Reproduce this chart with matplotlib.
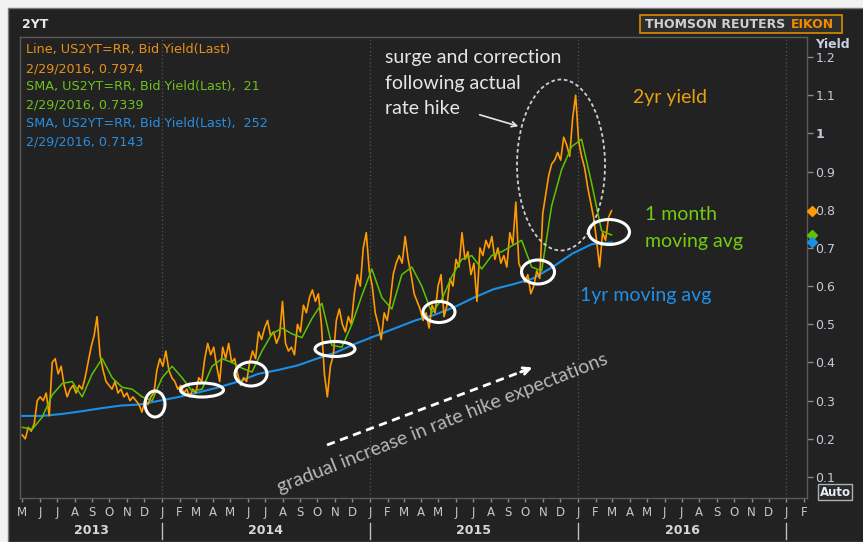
import matplotlib
matplotlib.use('Agg')
import matplotlib.pyplot as plt
import matplotlib.transforms as mtransforms
import matplotlib.dates as mdates
from matplotlib.patches import Ellipse, Rectangle, FancyArrowPatch
from matplotlib.lines import Line2D
import pandas as pd

# ---------------- data ----------------
start_date = '2013-05-01'
end_date = '2016-02-29'

yield_2y = [
    0.21, 0.20, 0.23, 0.22, 0.24, 0.30, 0.31, 0.30, 0.32, 0.26,
    0.40, 0.41, 0.37, 0.39, 0.34, 0.31, 0.33, 0.34, 0.32, 0.34,
    0.33, 0.36, 0.40, 0.44, 0.47, 0.52, 0.42, 0.38, 0.35, 0.34,
    0.33, 0.35, 0.32, 0.33, 0.31, 0.32, 0.30, 0.31, 0.30, 0.29,
    0.27, 0.30, 0.29, 0.31, 0.32, 0.38, 0.41, 0.39, 0.43, 0.38,
    0.36, 0.35, 0.33, 0.34, 0.32, 0.33, 0.31, 0.33, 0.32, 0.36,
    0.35, 0.41, 0.45, 0.42, 0.44, 0.39, 0.35, 0.44, 0.41, 0.45,
    0.40, 0.41, 0.37, 0.34, 0.36, 0.35, 0.40, 0.43, 0.41, 0.48,
    0.46, 0.49, 0.51, 0.47, 0.48, 0.45, 0.47, 0.56, 0.45, 0.43,
    0.44, 0.42, 0.50, 0.48, 0.55, 0.53, 0.57, 0.59, 0.56, 0.58,
    0.50, 0.37, 0.31, 0.39, 0.42, 0.51, 0.54, 0.50, 0.48, 0.52,
    0.50, 0.58, 0.63, 0.60, 0.70, 0.74, 0.64, 0.60, 0.53, 0.50,
    0.46, 0.53, 0.51, 0.56, 0.63, 0.66, 0.68, 0.66, 0.73, 0.67,
    0.63, 0.58, 0.56, 0.54, 0.51, 0.53, 0.49, 0.55, 0.53, 0.60,
    0.63, 0.52, 0.55, 0.62, 0.60, 0.67, 0.65, 0.74, 0.67, 0.69,
    0.63, 0.66, 0.56, 0.70, 0.68, 0.72, 0.70, 0.73, 0.67, 0.70,
    0.66, 0.68, 0.65, 0.74, 0.71, 0.82, 0.66, 0.64, 0.61, 0.63,
    0.58, 0.60, 0.64, 0.62, 0.79, 0.84, 0.89, 0.92, 0.93, 0.95,
    0.93, 0.99, 0.97, 0.94, 1.04, 1.10, 0.98, 0.94, 0.91, 0.86,
    0.82, 0.78, 0.72, 0.65, 0.74, 0.72, 0.78, 0.7974,
]

sma_21 = [
    0.23, 0.225, 0.257, 0.315, 0.345, 0.35, 0.31, 0.37, 0.41, 0.36,
    0.335, 0.33, 0.31, 0.30, 0.36, 0.39, 0.36, 0.325, 0.33, 0.39,
    0.41, 0.40, 0.385, 0.375, 0.43, 0.475, 0.49, 0.475, 0.465, 0.515,
    0.555, 0.445, 0.44, 0.50, 0.575, 0.645, 0.57, 0.54, 0.63, 0.65,
    0.60, 0.53, 0.565, 0.625, 0.67, 0.68, 0.645, 0.68, 0.69, 0.705,
    0.72, 0.65, 0.64, 0.81, 0.905, 0.965, 0.985, 0.87, 0.745, 0.7339,
]

sma_252 = [
    0.26, 0.26, 0.265, 0.272, 0.28, 0.287, 0.29, 0.30, 0.31, 0.322,
    0.335, 0.35, 0.37, 0.38, 0.392, 0.41, 0.427, 0.45, 0.47, 0.49,
    0.51, 0.525, 0.545, 0.57, 0.592, 0.605, 0.62, 0.65, 0.685, 0.71,
    0.7143,
]

last_values = [0.7974, 0.7339, 0.7143]
legend_lines = [
    'Line, US2YT=RR, Bid Yield(Last)',
    '2/29/2016, 0.7974',
    'SMA, US2YT=RR, Bid Yield(Last),  21',
    '2/29/2016, 0.7339',
    'SMA, US2YT=RR, Bid Yield(Last),  252',
    '2/29/2016, 0.7143',
]
year_labels = ['2013', '2014', '2015', '2016']
y_ticks = [0.1, 0.2, 0.3, 0.4, 0.5, 0.6, 0.7, 0.8, 0.9, 1.0, 1.1, 1.2]
y_tick_labels = ['0.1', '0.2', '0.3', '0.4', '0.5', '0.6', '0.7', '0.8', '0.9', '1', '1.1', '1.2']

# ---------------- style ----------------
ORANGE = '#ff9a00'
GREEN = '#5ec400'
BLUE = '#1a8fe8'
BG = '#222222'

W, H = 863, 542
fig = plt.figure(figsize=(W / 100, H / 100), dpi=100, facecolor='#f2f2f2')


def P(x, y):
    return (x / W, 1 - y / H)


# dark panel
fig.add_artist(Rectangle(P(8, 542), 1, (542 - 8) / H, transform=fig.transFigure,
                         facecolor=BG, edgecolor='#7a7a7a', lw=1, zorder=0))

ax = fig.add_axes([20 / W, 1 - 498 / H, (807 - 20) / W, (498 - 37) / H])
ax.set_facecolor(BG)
ax.set_zorder(2)

d_y = pd.date_range(start_date, end_date, periods=len(yield_2y))
d_g = pd.date_range(start_date, end_date, periods=len(sma_21))
d_b = pd.date_range(start_date, end_date, periods=len(sma_252))

ax.plot(d_b, sma_252, color=BLUE, lw=1.5, zorder=3)
ax.plot(d_y, yield_2y, color=ORANGE, lw=1.2, zorder=4)
ax.plot(d_g, sma_21, color=GREEN, lw=1.1, zorder=5)

ax.set_xlim(pd.Timestamp('2013-04-27'), pd.Timestamp('2017-02-06'))
ax.set_ylim(0.045, 1.2525)

for s in ax.spines.values():
    s.set_color('#5a5a5a')
    s.set_linewidth(1)

# y axis on the right
ax.yaxis.tick_right()
ax.set_yticks(y_ticks)
ax.set_yticklabels(y_tick_labels)
ax.tick_params(axis='y', colors='#8a8a8a', length=4, width=1, pad=2,
               labelcolor='#c5cad6', labelsize=9)
for lab in ax.get_yticklabels():
    if lab.get_text() == '1':
        lab.set_fontweight('bold')

# x axis months
months = pd.date_range('2013-05-01', '2017-02-01', freq='MS')
ax.set_xticks(months)
ax.set_xticklabels(['JFMAMJJASOND'[m.month - 1] for m in months])
ax.tick_params(axis='x', colors='#8a8a8a', length=3, width=1, pad=3,
               labelcolor='#c8c8c8', labelsize=8.5)

# year gridlines
for yr in ['2014-01-01', '2015-01-01', '2016-01-01', '2017-01-01']:
    ax.axvline(pd.Timestamp(yr), color='#555555', lw=0.9, ls=(0, (1, 2)), zorder=1)

# year labels and separators
bt = mtransforms.blended_transform_factory(ax.transData, fig.transFigure)
year_bounds = [mdates.date2num(pd.Timestamp(d)) for d in
               ['2013-04-27', '2014-01-01', '2015-01-01', '2016-01-01', '2017-01-01']]
for i, lab in enumerate(year_labels):
    mid = (year_bounds[i] + year_bounds[i + 1]) / 2
    fig.text(mid, 1 - 531 / H, lab, transform=bt, ha='center', va='center',
             color='#d8d8d8', fontsize=9, fontweight='bold')
for b in year_bounds[1:]:
    fig.add_artist(Line2D([b, b], [1 - 523 / H, 1 - 539 / H], transform=bt,
                          color='#bdbdbd', lw=1))

# end-value markers on the right axis
rt = mtransforms.blended_transform_factory(ax.transAxes, ax.transData)
for v, c in zip(last_values, [ORANGE, GREEN, BLUE]):
    ax.plot([1.006], [v], marker='D', ms=5, color=c, transform=rt, clip_on=False, zorder=6)

# legend text block
leg_colors = ['#e8901a', '#e8901a', '#6ec21e', '#6ec21e', '#2a8ee0', '#2a8ee0']
leg_y = [50, 68.5, 87, 105.5, 124, 142.5]
for t, c, yy in zip(legend_lines, leg_colors, leg_y):
    fig.text(*P(26, yy), t, color=c, fontsize=9.2, ha='left', va='center', zorder=10)

# header
fig.text(*P(22, 24), '2YT', color='#e8e8e8', fontsize=9, fontweight='bold', ha='left', va='center')
fig.add_artist(Rectangle(P(640, 33), (842 - 640) / W, (33 - 15) / H, transform=fig.transFigure,
                         facecolor='#2e2e2e', edgecolor='#e08a00', lw=1.2, zorder=3))
fig.text(*P(645, 24.5), 'THOMSON REUTERS', color='#d0d0d0', fontsize=9, fontweight='bold',
         ha='left', va='center', zorder=4)
fig.text(*P(834, 24.5), 'EIKON', color='#f08c00', fontsize=9, fontweight='bold',
         ha='right', va='center', zorder=4)

fig.text(*P(815, 45), 'Yield', color='#c8d0e0', fontsize=9, fontweight='bold', ha='left', va='center')
fig.text(*P(835, 492), 'Auto', color='#e8eef8', fontsize=8.5, fontweight='bold', ha='center', va='center',
         bbox=dict(boxstyle='square,pad=0.15', facecolor='#2a2a2a', edgecolor='#b0b0b0', lw=1))

# annotations
FONT = 'Lato'
FS = 14
fig.text(*P(385, 58), 'surge and correction', color='#e6e6e6', fontsize=FS, family=FONT,
         ha='left', va='center', zorder=10)
fig.text(*P(385, 83), 'following actual', color='#e6e6e6', fontsize=FS, family=FONT,
         ha='left', va='center', zorder=10)
fig.text(*P(385, 108), 'rate hike', color='#e6e6e6', fontsize=FS, family=FONT,
         ha='left', va='center', zorder=10)
fig.add_artist(FancyArrowPatch(P(477, 114), P(521, 127), transform=fig.transFigure,
                               arrowstyle='->', mutation_scale=9, color='#e6e6e6', lw=1.2, zorder=10))

fig.text(*P(633, 97), '2yr yield', color='#e8a010', fontsize=FS, family=FONT, ha='left', va='center', zorder=10)
fig.text(*P(645, 214), '1 month', color='#72cc10', fontsize=FS, family=FONT, ha='left', va='center', zorder=10)
fig.text(*P(645, 241), 'moving avg', color='#72cc10', fontsize=FS, family=FONT, ha='left', va='center', zorder=10)
fig.text(*P(580, 296), '1yr moving avg', color='#2090e8', fontsize=FS, family=FONT, ha='left', va='center', zorder=10)

fig.text(*P(280, 493), 'gradual increase in rate hike expectations', color='#b8b8b8', fontsize=FS,
         family=FONT, rotation=21.5, rotation_mode='anchor', ha='left', va='baseline', zorder=10)
fig.add_artist(Line2D([P(327, 445)[0], P(526, 370)[0]], [P(327, 445)[1], P(526, 370)[1]],
                      transform=fig.transFigure, color='white', lw=2, ls=(0, (3, 2)), zorder=10))
fig.add_artist(FancyArrowPatch(P(518, 373), P(535, 366.5), transform=fig.transFigure,
                               arrowstyle='->', mutation_scale=12, color='white', lw=2, zorder=10))

# dashed ellipse around surge
fig.add_artist(Ellipse(P(561, 165), 88 / W, 171 / H, transform=fig.transFigure, fill=False,
                       edgecolor='#d0d0d0', lw=1.3, ls=(0, (2, 1.5)), zorder=10))

# white ellipses at SMA crossings
circles = [(155, 404, 20, 26), (202, 390, 43, 14), (251, 374, 32, 24), (335, 349, 40, 15),
           (439, 312, 32, 21), (538, 272, 33, 24), (609, 232, 41, 25)]
for cx, cy, w, h in circles:
    fig.add_artist(Ellipse(P(cx, cy), w / W, h / H, transform=fig.transFigure, fill=False,
                           edgecolor='white', lw=2.2, zorder=10))

fig.savefig('out.png', dpi=100, facecolor=fig.get_facecolor())
